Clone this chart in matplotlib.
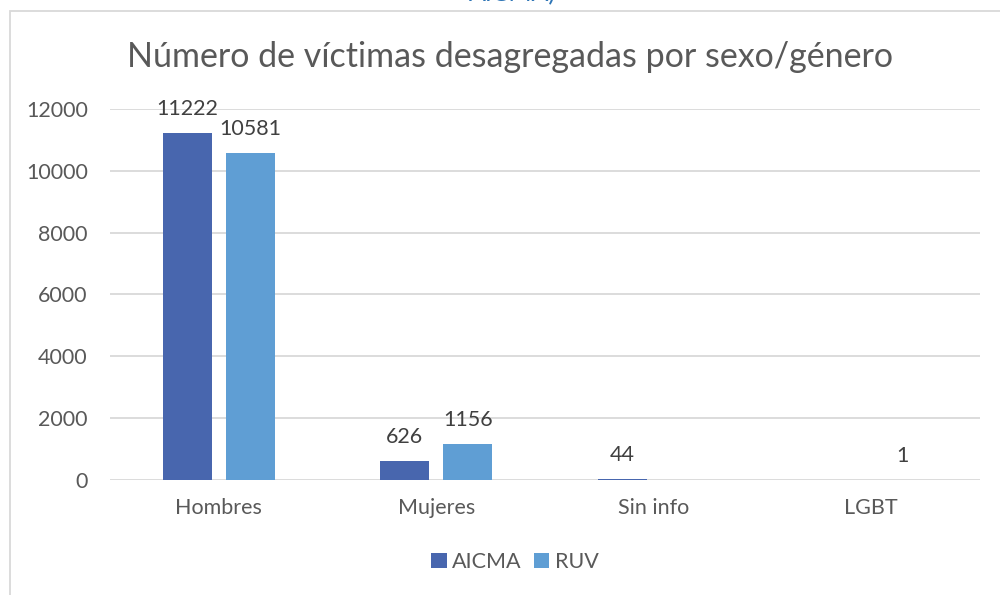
import numpy as np
import matplotlib
matplotlib.use("Agg")
import matplotlib.pyplot as plt
from matplotlib.patches import Rectangle

categories = ["Hombres", "Mujeres", "Sin info", "LGBT"]
aicma = [11222, 626, 44, 0]
ruv = [10581, 1156, 0, 1]
yticks = [0, 2000, 4000, 6000, 8000, 10000, 12000]

C_AICMA = "#4866AE"
C_RUV = "#5F9ED4"
TXT = "#595959"
FS = 15.5

plt.rcParams["font.family"] = ["Lato", "DejaVu Sans"]

fig = plt.figure(figsize=(10, 5.95), dpi=100)

# chart frame, cut off at right/bottom like the screenshot
fig.patches.append(Rectangle((0.01, -0.05), 1.2, 0.9815 + 0.05,
                             transform=fig.transFigure, fill=False,
                             edgecolor="#D9D9D9", lw=1.3, clip_on=False))

# text cut off at the top edge of the screenshot
fig.text(0.512, 1 - 5 / 595, "AICMA)", ha="center", va="bottom", fontsize=18,
         color="#2E75B6")

ax = fig.add_axes([0.11, 0.1933, 0.87, 0.6235])
x = np.arange(len(categories))
w = 0.225
off = 0.145
b1 = ax.bar(x - off, aicma, w, color=C_AICMA, label="AICMA")
b2 = ax.bar(x + off, ruv, w, color=C_RUV, label="RUV")

for bars, vals in ((b1, aicma), (b2, ruv)):
    for b, v in zip(bars, vals):
        if v == 0:
            continue
        ax.annotate(str(v), (b.get_x() + b.get_width() / 2, v),
                    xytext=(0, 10), textcoords="offset points",
                    ha="center", va="bottom", fontsize=FS, color="#404040")

ax.set_xlim(-0.5, 3.5)
ax.set_ylim(0, 12000)
ax.set_yticks(yticks)
ax.set_yticklabels([str(t) for t in yticks], fontsize=FS, color=TXT)
ax.set_xticks(x)
ax.set_xticklabels(categories, fontsize=FS, color=TXT)
ax.tick_params(axis="both", length=0)
ax.tick_params(axis="x", pad=13)
ax.tick_params(axis="y", pad=16)
ax.grid(axis="y", color="#D9D9D9", lw=1.3)
ax.set_axisbelow(True)
for s in ax.spines.values():
    s.set_visible(False)

fig.text(0.51, 1 - 57 / 595, "Número de víctimas desagregadas por sexo/género",
         ha="center", va="center", fontsize=24.5, color=TXT)

ax.legend(loc="center", bbox_to_anchor=(0.4655, -0.221), ncol=2, frameon=False,
          fontsize=FS, handlelength=0.7, handleheight=0.7, handletextpad=0.25,
          columnspacing=0.6, labelcolor=TXT)

fig.savefig("out.png", dpi=100)
